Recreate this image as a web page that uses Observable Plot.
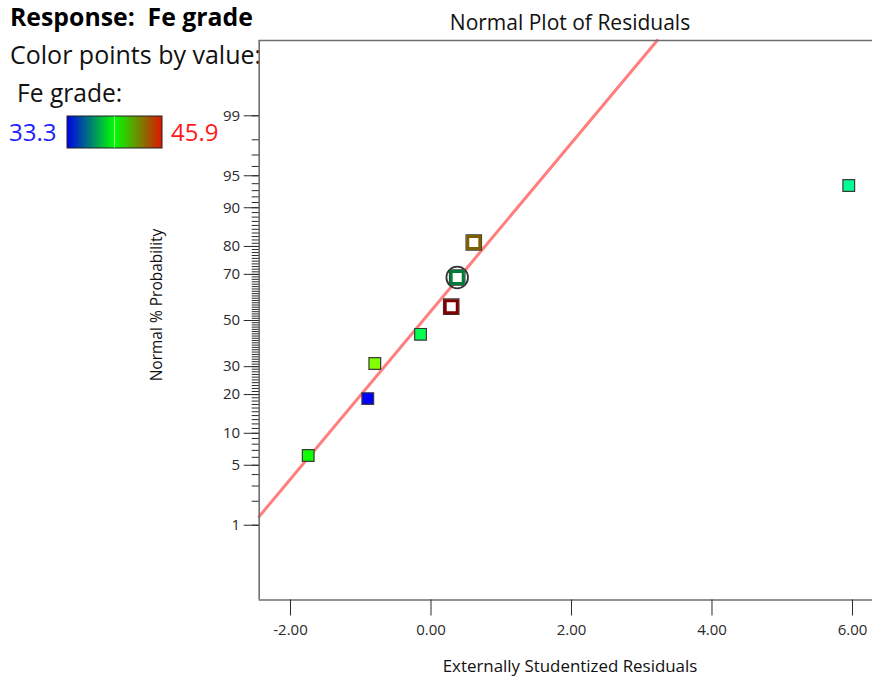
<!DOCTYPE html>
<html>
<head>
<meta charset="utf-8">
<script src="https://cdn.jsdelivr.net/npm/d3@7"></script>
<script src="https://cdn.jsdelivr.net/npm/@observablehq/plot@0.6"></script>
<style>
  html, body { margin: 0; padding: 0; background: #fff; overflow: hidden; }
  #wrap { position: relative; width: 872px; height: 682px; }
  #wrap > svg { position: absolute; left: 0; top: 0; }
</style>
</head>
<body>
<div id="wrap"></div>
<script>
// Externally studentized residuals of the eight runs, sorted ascending
const residuals = [-1.748, -0.900, -0.800, -0.149, 0.288, 0.373, 0.609, 5.947];
// Normal % probability assigned by rank, (i - 0.5) / n
const normalPercent = [6.25, 18.75, 31.25, 43.75, 56.25, 68.75, 81.25, 93.75];
// Fe grade of each run (colours the points)
const feGrade = [39.8, 33.3, 41.2, 38.6, 45.9, 38.2, 43.5, 37.8];
// Runs drawn with an open symbol
const openSymbol = [false, false, false, false, true, true, true, false];
// Run that is circled
const circled = [false, false, false, false, false, true, false, false];

// Reference line (residual, normal % probability) at its two ends
const fitResidual = [-2.446, 3.220];
const fitPercent = [1.297, 99.927];

// Axis ticks
const yMajorPercent = [1, 5, 10, 20, 30, 50, 70, 80, 90, 95, 99];
const yMinorPercent = d3.range(1, 100);
const xTicks = [-2, 0, 2, 4, 6];
const feRange = [33.3, 45.9];

// Inverse of the standard normal CDF (Acklam's rational approximation)
function probit(p) {
  const a = [-3.969683028665376e+01, 2.209460984245205e+02, -2.759285104469687e+02, 1.383577518672690e+02, -3.066479806614716e+01, 2.506628277459239e+00];
  const b = [-5.447609879822406e+01, 1.615858368580409e+02, -1.556989798598866e+02, 6.680131188771972e+01, -1.328068155288572e+01];
  const c = [-7.784894002430293e-03, -3.223964580411365e-01, -2.400758277161838e+00, -2.549671348254754e+00, 4.374664141464968e+00, 2.938163982698783e+00];
  const d = [7.784695709041462e-03, 3.224671290700398e-01, 2.445134137142996e+00, 3.754408661907416e+00];
  const pl = 0.02425, ph = 1 - pl;
  if (p < pl) {
    const q = Math.sqrt(-2 * Math.log(p));
    return (((((c[0]*q + c[1])*q + c[2])*q + c[3])*q + c[4])*q + c[5]) / ((((d[0]*q + d[1])*q + d[2])*q + d[3])*q + 1);
  }
  if (p > ph) {
    const q = Math.sqrt(-2 * Math.log(1 - p));
    return -(((((c[0]*q + c[1])*q + c[2])*q + c[3])*q + c[4])*q + c[5]) / ((((d[0]*q + d[1])*q + d[2])*q + d[3])*q + 1);
  }
  const q = p - 0.5, r = q * q;
  return (((((a[0]*r + a[1])*r + a[2])*r + a[3])*r + a[4])*r + a[5])*q / (((((b[0]*r + b[1])*r + b[2])*r + b[3])*r + b[4])*r + 1);
}

// Fe grade -> hue from blue through green to red
const hueOf = d3.scaleLinear().domain(feRange).range([240, 0]).clamp(true);
const colorOf = v => d3.hsl(hueOf(v), 1, 0.5).formatHex();

const points = residuals.map((r, i) => ({
  residual: r,
  z: probit(normalPercent[i] / 100),
  fe: feGrade[i],
  open: openSymbol[i],
  circled: circled[i],
  fill: colorOf(feGrade[i]),
  edge: d3.hsl(hueOf(feGrade[i]), 1, 0.5).darker(2).formatHex()
}));
const fitLine = fitResidual.map((r, i) => ({residual: r, z: probit(fitPercent[i] / 100)}));

const yMajor = yMajorPercent.map(p => probit(p / 100));
const yLabel = new Map(yMajor.map((z, i) => [z, String(yMajorPercent[i])]));
const yMinor = yMinorPercent.map(p => probit(p / 100));

const xDomain = [-2.4456, 6.285];
const yDomain = [-3.176, 3.182];
const frameColor = "#6e6e6e";
const font = "'Open Sans', sans-serif";

// Annotation layer: titles and colour legend
const W = 872, H = 682;
const notes = d3.create("svg").attr("width", W).attr("height", H)
  .style("font-family", font);

notes.append("text").attr("x", 570).attr("y", 30).attr("text-anchor", "middle")
  .attr("font-size", 21).attr("fill", "#111").text("Normal Plot of Residuals");
notes.append("text").attr("x", 10).attr("y", 26).attr("font-size", 24.8)
  .attr("font-weight", 700).attr("fill", "#000").text("Response:\u00a0 Fe grade");
notes.append("text").attr("x", 10).attr("y", 64).attr("font-size", 25)
  .attr("fill", "#111").text("Color points by value:");
notes.append("text").attr("x", 17).attr("y", 102).attr("font-size", 24.6)
  .attr("fill", "#111").text("Fe grade:");
notes.append("text").attr("x", 9).attr("y", 141).attr("font-size", 24)
  .attr("fill", "#2020ff").text(String(feRange[0]));
notes.append("text").attr("x", 171).attr("y", 141).attr("font-size", 24)
  .attr("fill", "#ff1a1a").text(String(feRange[1]));

const grad = notes.append("defs").append("linearGradient").attr("id", "feGrad");
grad.append("stop").attr("offset", "0%").attr("stop-color", "#0000e8");
grad.append("stop").attr("offset", "50%").attr("stop-color", "#00ff00");
grad.append("stop").attr("offset", "100%").attr("stop-color", "#e01400");
notes.append("rect").attr("x", 67).attr("y", 116).attr("width", 95).attr("height", 32)
  .attr("fill", "url(#feGrad)").attr("stroke", "#222").attr("stroke-width", 1);
notes.append("line").attr("x1", 114.5).attr("x2", 114.5).attr("y1", 116.5).attr("y2", 147.5)
  .attr("stroke", "#9dff9d").attr("stroke-width", 1);

notes.append("text").attr("transform", "translate(162,305) rotate(-90)")
  .attr("text-anchor", "middle").attr("font-size", 15.5).attr("fill", "#111")
  .text("Normal % Probability");
notes.append("text").attr("x", 570).attr("y", 672).attr("text-anchor", "middle")
  .attr("font-size", 16.9).attr("fill", "#111").text("Externally Studentized Residuals");

document.getElementById("wrap").append(notes.node());

// Normal probability plot
const chart = Plot.plot({
  width: W,
  height: H,
  marginLeft: 258.7,
  marginRight: 0,
  marginTop: 40,
  marginBottom: 82.5,
  style: {fontFamily: font, fontSize: "15px", background: "transparent", overflow: "visible"},
  x: {domain: xDomain},
  y: {domain: yDomain},
  color: {type: "identity"},
  marks: [
    Plot.frame({fill: "white", stroke: null}),
    Plot.line(fitLine, {x: "residual", y: "z", stroke: "#ff7f7f", strokeWidth: 3}),
    Plot.dot(points.filter(d => d.circled), {x: "residual", y: "z", r: 10.8, fill: "none", stroke: "#333", strokeWidth: 1.8}),
    Plot.dot(points.filter(d => !d.open), {x: "residual", y: "z", symbol: "square", r: 6.6, fill: "fill", stroke: "#3a3a3a", strokeWidth: 1.2}),
    Plot.dot(points.filter(d => d.open), {x: "residual", y: "z", symbol: "square", r: 8.7, fill: "white", stroke: "#3a3a3a", strokeWidth: 1.2}),
    Plot.dot(points.filter(d => d.open), {x: "residual", y: "z", symbol: "square", r: 6.8, fill: "white", stroke: "edge", strokeWidth: 3}),
    Plot.ruleY([yDomain[0], yDomain[1]], {stroke: frameColor, strokeWidth: 1.6}),
    Plot.ruleX([xDomain[0]], {stroke: frameColor, strokeWidth: 1.6}),
    Plot.axisY(yMinor, {tickSize: 7, tickFormat: () => "", color: "#2a2a2a", label: null}),
    Plot.axisY(yMajor, {tickSize: 15, tickPadding: 4, tickFormat: z => yLabel.get(z), color: "#2a2a2a", fontSize: 15, label: null}),
    Plot.axisX(xTicks, {tickSize: 16, tickPadding: 8, tickFormat: d => d.toFixed(2), color: "#2a2a2a", fontSize: 15, label: null})
  ]
});
document.getElementById("wrap").append(chart);
</script>
</body>
</html>
